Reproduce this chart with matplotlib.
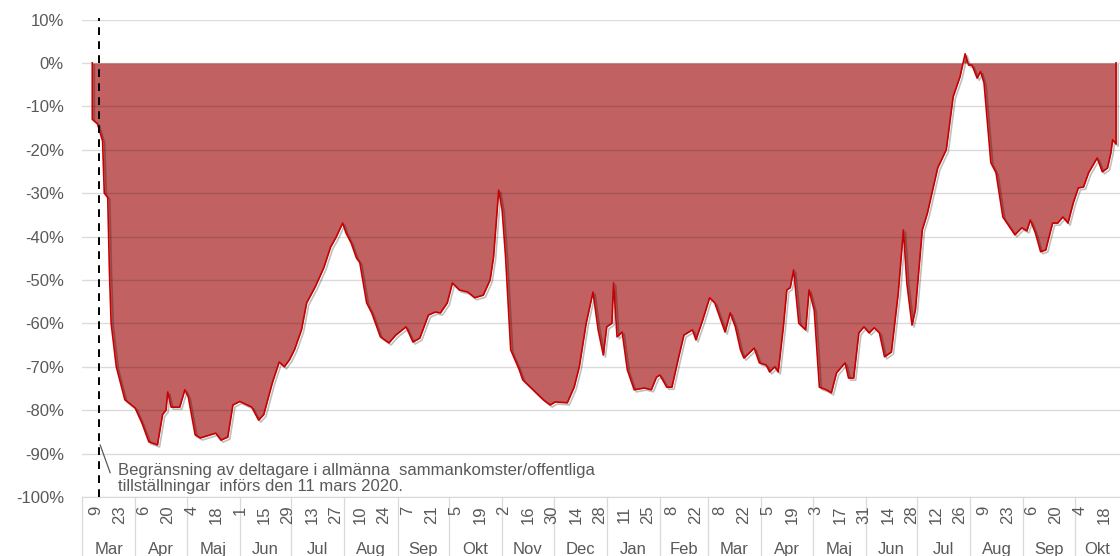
import matplotlib
matplotlib.use("Agg")
import matplotlib.pyplot as plt
import matplotlib.patheffects as pe
import matplotlib.transforms as mtransforms
import pandas as pd

# daily change vs. normal (%)
dates = [
  "2020-03-07", "2020-03-10", "2020-03-13", "2020-03-14", "2020-03-16", "2020-03-17",
  "2020-03-18", "2020-03-21", "2020-03-26", "2020-04-01", "2020-04-05", "2020-04-09",
  "2020-04-14", "2020-04-17", "2020-04-19", "2020-04-20", "2020-04-22", "2020-04-27",
  "2020-04-30", "2020-05-02", "2020-05-06", "2020-05-09", "2020-05-18", "2020-05-21",
  "2020-05-25", "2020-05-28", "2020-06-01", "2020-06-08", "2020-06-12", "2020-06-15",
  "2020-06-20", "2020-06-24", "2020-06-27", "2020-06-30", "2020-07-03", "2020-07-07",
  "2020-07-10", "2020-07-15", "2020-07-20", "2020-07-24", "2020-07-27", "2020-07-31",
  "2020-08-02", "2020-08-05", "2020-08-08", "2020-08-10", "2020-08-14", "2020-08-17",
  "2020-08-22", "2020-08-27", "2020-08-31", "2020-09-06", "2020-09-10", "2020-09-14",
  "2020-09-19", "2020-09-23", "2020-09-26", "2020-09-30", "2020-10-03", "2020-10-07",
  "2020-10-12", "2020-10-16", "2020-10-21", "2020-10-25", "2020-10-27", "2020-10-30",
  "2020-11-01", "2020-11-03", "2020-11-06", "2020-11-11", "2020-11-13", "2020-11-19",
  "2020-11-25", "2020-11-29", "2020-12-02", "2020-12-09", "2020-12-13", "2020-12-16",
  "2020-12-20", "2020-12-24", "2020-12-27", "2020-12-30", "2021-01-01", "2021-01-04",
  "2021-01-05", "2021-01-07", "2021-01-10", "2021-01-13", "2021-01-17", "2021-01-23",
  "2021-01-27", "2021-01-30", "2021-02-01", "2021-02-05", "2021-02-08", "2021-02-12",
  "2021-02-15", "2021-02-20", "2021-02-22", "2021-02-26", "2021-03-02", "2021-03-05",
  "2021-03-11", "2021-03-14", "2021-03-17", "2021-03-20", "2021-03-22", "2021-03-28",
  "2021-03-31", "2021-04-04", "2021-04-06", "2021-04-09", "2021-04-11", "2021-04-14",
  "2021-04-16", "2021-04-18", "2021-04-20", "2021-04-23", "2021-04-27", "2021-04-29",
  "2021-05-02", "2021-05-05", "2021-05-09", "2021-05-12", "2021-05-15", "2021-05-20",
  "2021-05-22", "2021-05-25", "2021-05-28", "2021-05-31", "2021-06-03", "2021-06-06",
  "2021-06-09", "2021-06-12", "2021-06-16", "2021-06-20", "2021-06-23", "2021-06-25",
  "2021-06-28", "2021-06-30", "2021-07-04", "2021-07-07", "2021-07-11", "2021-07-13",
  "2021-07-18", "2021-07-22", "2021-07-26", "2021-07-29", "2021-07-31", "2021-08-02",
  "2021-08-05", "2021-08-07", "2021-08-09", "2021-08-13", "2021-08-16", "2021-08-20",
  "2021-08-27", "2021-08-31", "2021-09-03", "2021-09-05", "2021-09-08", "2021-09-11",
  "2021-09-14", "2021-09-18", "2021-09-21", "2021-09-24", "2021-09-27", "2021-09-30",
  "2021-10-03", "2021-10-06", "2021-10-09", "2021-10-14", "2021-10-17", "2021-10-20",
  "2021-10-22", "2021-10-23", "2021-10-25",
]
change = [
  -13.0, -14.0, -18.0, -30.0, -31.0, -48.0,
  -60.0, -70.0, -77.6, -79.5, -83.0, -87.3,
  -88.0, -81.0, -80.0, -75.8, -79.3, -79.3,
  -75.3, -77.0, -85.7, -86.4, -85.3, -86.9,
  -86.2, -78.8, -78.0, -79.3, -82.3, -81.0,
  -73.7, -68.9, -70.0, -68.4, -66.0, -61.5,
  -55.3, -51.6, -47.2, -42.4, -40.3, -36.9,
  -39.2, -41.5, -44.9, -46.0, -55.3, -57.6,
  -63.1, -64.5, -62.7, -60.8, -64.3, -63.4,
  -58.1, -57.4, -57.6, -55.3, -50.7, -52.3,
  -52.8, -54.1, -53.5, -50.0, -44.7, -29.3,
  -33.9, -44.7, -66.1, -70.7, -73.0, -75.3,
  -77.6, -78.8, -78.1, -78.3, -74.7, -70.0,
  -60.0, -52.8, -61.5, -67.3, -60.8, -60.0,
  -50.7, -63.1, -62.0, -70.7, -75.3, -74.9,
  -75.3, -72.4, -71.9, -74.7, -74.7, -67.7,
  -62.7, -61.5, -63.8, -59.2, -54.1, -55.3,
  -62.0, -57.6, -60.8, -66.1, -68.0, -65.7,
  -69.1, -69.6, -71.2, -70.0, -71.2, -60.8,
  -52.3, -51.8, -47.7, -60.0, -61.5, -52.3,
  -57.0, -74.7, -75.3, -76.0, -71.4, -69.1,
  -72.6, -72.6, -62.2, -60.8, -62.2, -61.0,
  -62.2, -67.7, -66.6, -53.0, -38.5, -50.7,
  -60.4, -56.9, -38.5, -34.6, -27.6, -24.2,
  -20.0, -7.8, -3.2, 2.1, -0.5, -0.5,
  -3.5, -2.0, -4.6, -23.0, -25.3, -35.5,
  -39.6, -38.0, -38.7, -36.2, -39.2, -43.5,
  -43.1, -36.9, -36.9, -35.5, -36.9, -32.3,
  -28.8, -28.6, -25.3, -21.9, -25.1, -24.2,
  -20.7, -17.7, -18.7,
]

month_names = ["Jan", "Feb", "Mar", "Apr", "Maj", "Jun",
               "Jul", "Aug", "Sep", "Okt", "Nov", "Dec"]
y_ticks = list(range(-100, 11, 10))
event_date = pd.Timestamp("2020-03-11")
note = ("Begränsning av deltagare i allmänna  sammankomster/offentliga\n"
        "tillställningar  införs den 11 mars 2020.")

x_start = pd.Timestamp("2020-03-01")
x_end = pd.Timestamp("2021-10-27 07:00")
tick_dates = pd.date_range("2020-03-09", "2021-10-18", freq="14D")

grey = "#595959"
grid = "#D9D9D9"
plt.rcParams["font.family"] = ["Liberation Sans", "DejaVu Sans"]

fig = plt.figure(figsize=(11.2, 5.56), dpi=100)
ax = fig.add_axes([82 / 1120, 59 / 556, 1038 / 1120, 477.5 / 556])

x = pd.to_datetime(dates)
ax.fill_between(x, change, 0, color="#A81E1E", alpha=0.7, lw=0, zorder=2)
ax.plot([x[0]] + list(x) + [x[-1]], [0] + change + [0], color="#C80000", lw=1.2,
        zorder=3, solid_joinstyle="round",
        path_effects=[pe.SimpleLineShadow(offset=(1.5, -1.5), shadow_color="k", alpha=0.25),
                      pe.Normal()])

ax.set_xlim(x_start, x_end)
ax.set_ylim(-100, 10)

# y axis; grid is a see-through dark line so it shows on the fill too
ax.set_yticks(y_ticks)
ax.set_yticklabels([f"{v}%" for v in y_ticks])
ax.yaxis.grid(True, color="black", alpha=0.14, lw=1.0, zorder=2.5)
ax.set_axisbelow(False)
ax.tick_params(axis="y", length=0, pad=13, labelsize=12, labelcolor=grey)

# x axis: day ticks + month groups
ax.set_xticks(tick_dates)
ax.set_xticklabels([str(d.day) for d in tick_dates], rotation=90)
ax.tick_params(axis="x", length=0, pad=6, labelsize=12, labelcolor=grey)

for s in ["left", "right", "top"]:
  ax.spines[s].set_visible(False)
ax.spines["bottom"].set_color(grid)

trans = mtransforms.blended_transform_factory(ax.transData, ax.transAxes)
month_starts = pd.date_range("2020-03-01", "2021-10-01", freq="MS")
for m in month_starts:
  ax.plot([m, m], [0, -0.13], transform=trans, clip_on=False, color=grid, lw=0.9)
  end = min(m + pd.offsets.MonthBegin(1), x_end)
  mid = m + (end - m) / 2
  ax.text(mid, -0.1195, month_names[m.month - 1], transform=trans, ha="center",
          va="baseline", fontsize=12, color=grey)

# event marker and note
ax.axvline(event_date, ymin=0, ymax=1.003, color="black", lw=1.4,
           ls=(0, (4, 3.2)), zorder=4, clip_on=False)
ax.plot([event_date + pd.Timedelta(hours=14), event_date + pd.Timedelta(days=6, hours=10)],
        [-88, -94.4], color=grey, lw=0.9, zorder=4)
ax.text(event_date + pd.Timedelta(days=11, hours=3), -95.8, note, ha="left", va="center",
        fontsize=12, color=grey, linespacing=1.08, zorder=5)

fig.savefig("out.png", dpi=100)
